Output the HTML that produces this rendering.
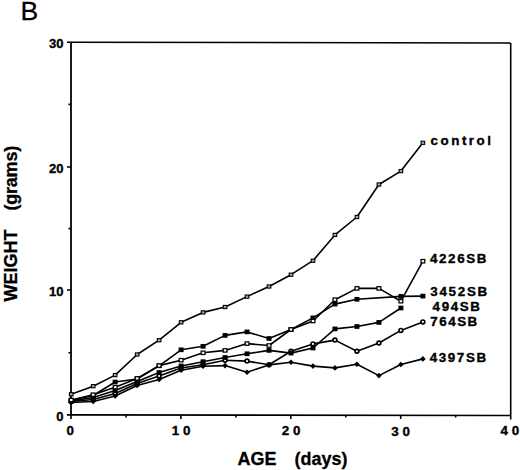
<!DOCTYPE html>
<html><head><meta charset="utf-8"><style>
html,body{margin:0;padding:0;background:#fff;width:520px;height:470px;overflow:hidden}
svg{display:block}
</style></head><body>
<svg width="520" height="470" viewBox="0 0 520 470">
<path d="M67 42.2L510.7 43 M510.7 43L510.7 419.5 M67 414.9L510.7 415.5" stroke="#000" stroke-width="1.6" fill="none"/>
<path d="M71 42.2L71 415" stroke="#000" stroke-width="1.8" fill="none"/>
<path d="M68.5 352.80L71 352.80M68.5 228.60L71 228.60M68.5 104.40L71 104.40M67 290L71 290 M67 167L71 167" stroke="#000" stroke-width="1.6" fill="none"/>
<path d="M71.00 415L71.00 419M180.90 415L180.90 419M290.80 415L290.80 419M400.70 415L400.70 419M125.95 415L125.95 417.5M235.85 415L235.85 417.5M345.75 415L345.75 417.5M455.65 415L455.65 417.5" stroke="#000" stroke-width="1.6" fill="none"/>
<path d="M71.20 401.50L93.18 399.50L115.16 393.50L137.14 383.50L159.12 376.00L181.10 368.00L203.08 364.80L225.06 360.20L247.04 361.10L269.02 364.70L291.00 351.20L312.98 343.90L334.96 340.10L356.94 351.20L378.92 343.00L400.90 330.40L422.88 321.90" stroke="#000" stroke-width="1.6" fill="none" stroke-linejoin="round"/>
<path d="M71.20 402.50L93.18 401.50L115.16 396.00L137.14 385.50L159.12 379.50L181.10 370.30L203.08 366.20L225.06 365.60L247.04 372.20L269.02 364.90L291.00 362.20L312.98 366.10L334.96 367.90L356.94 364.30L378.92 375.60L400.90 364.50L422.88 358.90" stroke="#000" stroke-width="1.6" fill="none" stroke-linejoin="round"/>
<path d="M71.20 401.00L93.18 397.50L115.16 390.50L137.14 381.50L159.12 372.50L181.10 366.00L203.08 361.70L225.06 357.50L247.04 353.80L269.02 350.40L291.00 353.10L312.98 348.00L334.96 328.90L356.94 326.50L378.92 322.40L400.90 308.00" stroke="#000" stroke-width="1.6" fill="none" stroke-linejoin="round"/>
<path d="M71.20 400.50L93.18 395.50L115.16 382.00L137.14 379.00L159.12 365.80L181.10 349.80L203.08 346.30L225.06 335.40L247.04 331.90L269.02 338.50L291.00 329.50L312.98 317.90L334.96 304.10L356.94 299.30L400.90 296.40L422.88 296.10" stroke="#000" stroke-width="1.6" fill="none" stroke-linejoin="round"/>
<path d="M71.20 400.00L93.18 394.70L115.16 387.20L137.14 378.40L159.12 365.60L181.10 360.20L203.08 352.80L225.06 350.40L247.04 343.60L269.02 345.50L291.00 329.50L312.98 321.00L334.96 299.70L356.94 288.40L378.92 288.40L400.90 301.20L422.88 261.20" stroke="#000" stroke-width="1.6" fill="none" stroke-linejoin="round"/>
<path d="M71.20 394.30L93.18 386.20L115.16 375.10L137.14 354.50L159.12 340.20L181.10 322.30L203.08 312.40L225.06 307.00L247.04 296.60L269.02 286.50L291.00 274.70L312.98 260.70L334.96 234.90L356.94 217.00L378.92 184.50L400.90 171.10L422.88 142.80" stroke="#000" stroke-width="1.6" fill="none" stroke-linejoin="round"/>
<circle cx="71.20" cy="401.50" r="1.9" fill="#fff" stroke="#000" stroke-width="1.7"/>
<circle cx="93.18" cy="399.50" r="1.9" fill="#fff" stroke="#000" stroke-width="1.7"/>
<circle cx="115.16" cy="393.50" r="1.9" fill="#fff" stroke="#000" stroke-width="1.7"/>
<circle cx="137.14" cy="383.50" r="1.9" fill="#fff" stroke="#000" stroke-width="1.7"/>
<circle cx="159.12" cy="376.00" r="1.9" fill="#fff" stroke="#000" stroke-width="1.7"/>
<circle cx="181.10" cy="368.00" r="1.9" fill="#fff" stroke="#000" stroke-width="1.7"/>
<circle cx="203.08" cy="364.80" r="1.9" fill="#fff" stroke="#000" stroke-width="1.7"/>
<circle cx="225.06" cy="360.20" r="1.9" fill="#fff" stroke="#000" stroke-width="1.7"/>
<circle cx="247.04" cy="361.10" r="1.9" fill="#fff" stroke="#000" stroke-width="1.7"/>
<circle cx="269.02" cy="364.70" r="1.9" fill="#fff" stroke="#000" stroke-width="1.7"/>
<circle cx="291.00" cy="351.20" r="1.9" fill="#fff" stroke="#000" stroke-width="1.7"/>
<circle cx="312.98" cy="343.90" r="1.9" fill="#fff" stroke="#000" stroke-width="1.7"/>
<circle cx="334.96" cy="340.10" r="1.9" fill="#fff" stroke="#000" stroke-width="1.7"/>
<circle cx="356.94" cy="351.20" r="1.9" fill="#fff" stroke="#000" stroke-width="1.7"/>
<circle cx="378.92" cy="343.00" r="1.9" fill="#fff" stroke="#000" stroke-width="1.7"/>
<circle cx="400.90" cy="330.40" r="1.9" fill="#fff" stroke="#000" stroke-width="1.7"/>
<circle cx="422.88" cy="321.90" r="1.9" fill="#fff" stroke="#000" stroke-width="1.7"/>
<path d="M71.20 399.70L74.00 402.50L71.20 405.30L68.40 402.50Z" fill="#000"/>
<path d="M93.18 398.70L95.98 401.50L93.18 404.30L90.38 401.50Z" fill="#000"/>
<path d="M115.16 393.20L117.96 396.00L115.16 398.80L112.36 396.00Z" fill="#000"/>
<path d="M137.14 382.70L139.94 385.50L137.14 388.30L134.34 385.50Z" fill="#000"/>
<path d="M159.12 376.70L161.92 379.50L159.12 382.30L156.32 379.50Z" fill="#000"/>
<path d="M181.10 367.50L183.90 370.30L181.10 373.10L178.30 370.30Z" fill="#000"/>
<path d="M203.08 363.40L205.88 366.20L203.08 369.00L200.28 366.20Z" fill="#000"/>
<path d="M225.06 362.80L227.86 365.60L225.06 368.40L222.26 365.60Z" fill="#000"/>
<path d="M247.04 369.40L249.84 372.20L247.04 375.00L244.24 372.20Z" fill="#000"/>
<path d="M269.02 362.10L271.82 364.90L269.02 367.70L266.22 364.90Z" fill="#000"/>
<path d="M291.00 359.40L293.80 362.20L291.00 365.00L288.20 362.20Z" fill="#000"/>
<path d="M312.98 363.30L315.78 366.10L312.98 368.90L310.18 366.10Z" fill="#000"/>
<path d="M334.96 365.10L337.76 367.90L334.96 370.70L332.16 367.90Z" fill="#000"/>
<path d="M356.94 361.50L359.74 364.30L356.94 367.10L354.14 364.30Z" fill="#000"/>
<path d="M378.92 372.80L381.72 375.60L378.92 378.40L376.12 375.60Z" fill="#000"/>
<path d="M400.90 361.70L403.70 364.50L400.90 367.30L398.10 364.50Z" fill="#000"/>
<path d="M422.88 356.10L425.68 358.90L422.88 361.70L420.08 358.90Z" fill="#000"/>
<rect x="68.70" y="398.65" width="5" height="4.7" fill="#000"/>
<rect x="90.68" y="395.15" width="5" height="4.7" fill="#000"/>
<rect x="112.66" y="388.15" width="5" height="4.7" fill="#000"/>
<rect x="134.64" y="379.15" width="5" height="4.7" fill="#000"/>
<rect x="156.62" y="370.15" width="5" height="4.7" fill="#000"/>
<rect x="178.60" y="363.65" width="5" height="4.7" fill="#000"/>
<rect x="200.58" y="359.35" width="5" height="4.7" fill="#000"/>
<rect x="222.56" y="355.15" width="5" height="4.7" fill="#000"/>
<rect x="244.54" y="351.45" width="5" height="4.7" fill="#000"/>
<rect x="266.52" y="348.05" width="5" height="4.7" fill="#000"/>
<rect x="288.50" y="350.75" width="5" height="4.7" fill="#000"/>
<rect x="310.48" y="345.65" width="5" height="4.7" fill="#000"/>
<rect x="332.46" y="326.55" width="5" height="4.7" fill="#000"/>
<rect x="354.44" y="324.15" width="5" height="4.7" fill="#000"/>
<rect x="376.42" y="320.05" width="5" height="4.7" fill="#000"/>
<rect x="398.40" y="305.65" width="5" height="4.7" fill="#000"/>
<rect x="68.70" y="398.15" width="5" height="4.7" fill="#000"/>
<rect x="90.68" y="393.15" width="5" height="4.7" fill="#000"/>
<rect x="112.66" y="379.65" width="5" height="4.7" fill="#000"/>
<rect x="134.64" y="376.65" width="5" height="4.7" fill="#000"/>
<rect x="156.62" y="363.45" width="5" height="4.7" fill="#000"/>
<rect x="178.60" y="347.45" width="5" height="4.7" fill="#000"/>
<rect x="200.58" y="343.95" width="5" height="4.7" fill="#000"/>
<rect x="222.56" y="333.05" width="5" height="4.7" fill="#000"/>
<rect x="244.54" y="329.55" width="5" height="4.7" fill="#000"/>
<rect x="266.52" y="336.15" width="5" height="4.7" fill="#000"/>
<rect x="288.50" y="327.15" width="5" height="4.7" fill="#000"/>
<rect x="310.48" y="315.55" width="5" height="4.7" fill="#000"/>
<rect x="332.46" y="301.75" width="5" height="4.7" fill="#000"/>
<rect x="354.44" y="296.95" width="5" height="4.7" fill="#000"/>
<rect x="398.40" y="294.05" width="5" height="4.7" fill="#000"/>
<rect x="420.38" y="293.75" width="5" height="4.7" fill="#000"/>
<rect x="69.30" y="398.30" width="3.8" height="3.4" fill="#fff" stroke="#000" stroke-width="1.25"/>
<rect x="91.28" y="393.00" width="3.8" height="3.4" fill="#fff" stroke="#000" stroke-width="1.25"/>
<rect x="113.26" y="385.50" width="3.8" height="3.4" fill="#fff" stroke="#000" stroke-width="1.25"/>
<rect x="135.24" y="376.70" width="3.8" height="3.4" fill="#fff" stroke="#000" stroke-width="1.25"/>
<rect x="157.22" y="363.90" width="3.8" height="3.4" fill="#fff" stroke="#000" stroke-width="1.25"/>
<rect x="179.20" y="358.50" width="3.8" height="3.4" fill="#fff" stroke="#000" stroke-width="1.25"/>
<rect x="201.18" y="351.10" width="3.8" height="3.4" fill="#fff" stroke="#000" stroke-width="1.25"/>
<rect x="223.16" y="348.70" width="3.8" height="3.4" fill="#fff" stroke="#000" stroke-width="1.25"/>
<rect x="245.14" y="341.90" width="3.8" height="3.4" fill="#fff" stroke="#000" stroke-width="1.25"/>
<rect x="267.12" y="343.80" width="3.8" height="3.4" fill="#fff" stroke="#000" stroke-width="1.25"/>
<rect x="289.10" y="327.80" width="3.8" height="3.4" fill="#fff" stroke="#000" stroke-width="1.25"/>
<rect x="311.08" y="319.30" width="3.8" height="3.4" fill="#fff" stroke="#000" stroke-width="1.25"/>
<rect x="333.06" y="298.00" width="3.8" height="3.4" fill="#fff" stroke="#000" stroke-width="1.25"/>
<rect x="355.04" y="286.70" width="3.8" height="3.4" fill="#fff" stroke="#000" stroke-width="1.25"/>
<rect x="377.02" y="286.70" width="3.8" height="3.4" fill="#fff" stroke="#000" stroke-width="1.25"/>
<rect x="399.00" y="299.50" width="3.8" height="3.4" fill="#fff" stroke="#000" stroke-width="1.25"/>
<rect x="420.98" y="259.50" width="3.8" height="3.4" fill="#fff" stroke="#000" stroke-width="1.25"/>
<rect x="69.40" y="392.70" width="3.6" height="3.2" fill="#aaa" stroke="#000" stroke-width="1.1"/>
<rect x="91.38" y="384.60" width="3.6" height="3.2" fill="#aaa" stroke="#000" stroke-width="1.1"/>
<rect x="113.36" y="373.50" width="3.6" height="3.2" fill="#aaa" stroke="#000" stroke-width="1.1"/>
<rect x="135.34" y="352.90" width="3.6" height="3.2" fill="#aaa" stroke="#000" stroke-width="1.1"/>
<rect x="157.32" y="338.60" width="3.6" height="3.2" fill="#aaa" stroke="#000" stroke-width="1.1"/>
<rect x="179.30" y="320.70" width="3.6" height="3.2" fill="#aaa" stroke="#000" stroke-width="1.1"/>
<rect x="201.28" y="310.80" width="3.6" height="3.2" fill="#aaa" stroke="#000" stroke-width="1.1"/>
<rect x="223.26" y="305.40" width="3.6" height="3.2" fill="#aaa" stroke="#000" stroke-width="1.1"/>
<rect x="245.24" y="295.00" width="3.6" height="3.2" fill="#aaa" stroke="#000" stroke-width="1.1"/>
<rect x="267.22" y="284.90" width="3.6" height="3.2" fill="#aaa" stroke="#000" stroke-width="1.1"/>
<rect x="289.20" y="273.10" width="3.6" height="3.2" fill="#aaa" stroke="#000" stroke-width="1.1"/>
<rect x="311.18" y="259.10" width="3.6" height="3.2" fill="#aaa" stroke="#000" stroke-width="1.1"/>
<rect x="333.16" y="233.30" width="3.6" height="3.2" fill="#aaa" stroke="#000" stroke-width="1.1"/>
<rect x="355.14" y="215.40" width="3.6" height="3.2" fill="#aaa" stroke="#000" stroke-width="1.1"/>
<rect x="377.12" y="182.90" width="3.6" height="3.2" fill="#aaa" stroke="#000" stroke-width="1.1"/>
<rect x="399.10" y="169.50" width="3.6" height="3.2" fill="#aaa" stroke="#000" stroke-width="1.1"/>
<rect x="421.08" y="141.20" width="3.6" height="3.2" fill="#aaa" stroke="#000" stroke-width="1.1"/>

<text x="20.4" y="19.5" font-size="26.6" font-family="Liberation Sans, sans-serif" stroke="#000" stroke-width="0.3">B</text>
<g font-size="13" font-weight="bold" font-family="Liberation Sans, sans-serif" text-anchor="end" stroke="#000" stroke-width="0.35">
<text x="63.5" y="48.2">30</text>
<text x="63.5" y="173">20</text>
<text x="63.5" y="296">10</text>
<text x="63.5" y="420.9">0</text>
</g>
<g font-size="13.4" font-weight="bold" font-family="Liberation Sans, sans-serif" text-anchor="middle" letter-spacing="3.8" stroke="#000" stroke-width="0.35">
<text x="72" y="435">0</text>
<text x="183" y="435">10</text>
<text x="292.9" y="435.4">20</text>
<text x="402.4" y="435.6">30</text>
<text x="511.8" y="435.2">40</text>
</g>
<g font-size="18" font-weight="bold" font-family="Liberation Sans, sans-serif" stroke="#000" stroke-width="0.3">
<text x="237.5" y="464.6">AGE</text>
<text x="294.5" y="464.6">(days)</text>
<text transform="translate(16.5,301.5) rotate(-90)">WEIGHT</text>
<text transform="translate(16.5,210.6) rotate(-90)" letter-spacing="-0.2">(grams)</text>
</g>
<g font-size="13.4" font-weight="bold" font-family="Liberation Sans, sans-serif" stroke="#000" stroke-width="0.35">
<text x="430.6" y="144.5" letter-spacing="2.5">control</text>
<text x="430" y="262.6" letter-spacing="1.6">4226SB</text>
<text x="430.3" y="295.7" letter-spacing="1.7">3452SB</text>
<text x="432.6" y="310.5" letter-spacing="1.6">494SB</text>
<text x="430.3" y="326.2" letter-spacing="1.5">764SB</text>
<text x="429.7" y="361.8" letter-spacing="1.6">4397SB</text>
</g>

</svg>
</body></html>
